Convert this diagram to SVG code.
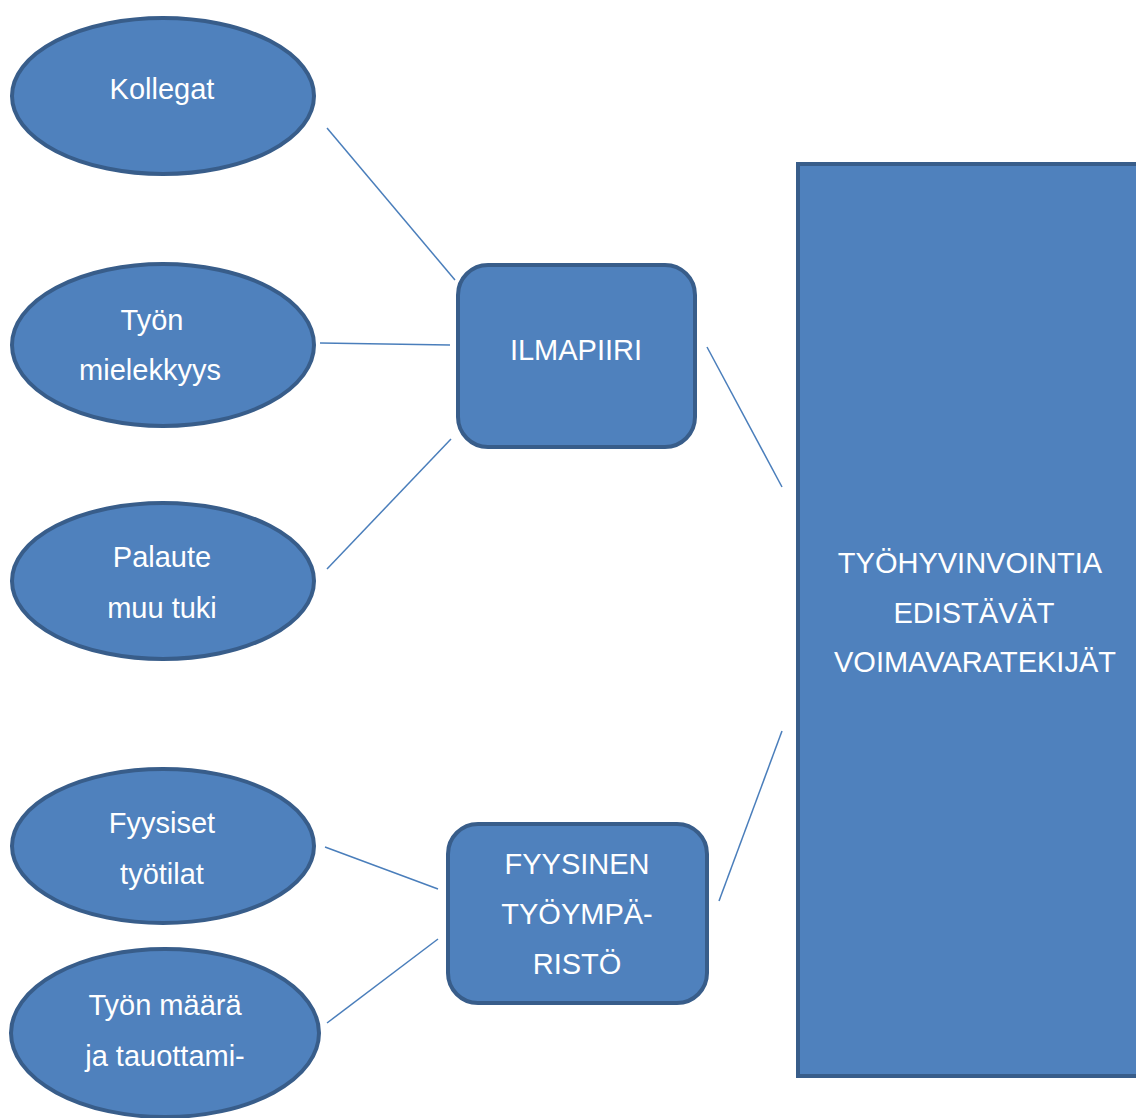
<svg xmlns="http://www.w3.org/2000/svg" width="1136" height="1118" viewBox="0 0 1136 1118">
<style>
.n{fill:#4F81BD;stroke:#385D8A;stroke-width:4}
.t{fill:#fff;font-family:"Liberation Sans",Arial,sans-serif;font-size:29px;text-anchor:middle}
.c line{stroke:#4A7EBB;stroke-width:1.5}
</style>
<rect width="1136" height="1118" fill="#fff"/>
<g class="c" id="connectors">
<line x1="327" y1="128" x2="455" y2="280"/>
<line x1="320" y1="343" x2="450" y2="345"/>
<line x1="327" y1="569" x2="451" y2="439"/>
<line x1="707" y1="347" x2="782" y2="487"/>
<line x1="719" y1="901" x2="782" y2="731"/>
<line x1="325" y1="847" x2="438" y2="889"/>
<line x1="327" y1="1023" x2="438" y2="939"/>
</g>
<g id="big">
<rect class="n" x="798" y="164" width="345" height="912"/>
<text class="t" x="970" y="573">TYÖHYVINVOINTIA</text>
<text class="t" x="974" y="623">EDISTÄVÄT</text>
<text class="t" x="975" y="672">VOIMAVARATEKIJÄT</text>
</g>
<g id="kollegat">
<ellipse class="n" cx="163" cy="96" rx="151" ry="78"/>
<text class="t" x="162" y="99">Kollegat</text>
</g>
<g id="mielekkyys">
<ellipse class="n" cx="163" cy="345" rx="151" ry="81"/>
<text class="t" x="152" y="330">Työn</text>
<text class="t" x="150" y="380">mielekkyys</text>
</g>
<g id="palaute">
<ellipse class="n" cx="163" cy="581" rx="151" ry="78"/>
<text class="t" x="162" y="567">Palaute</text>
<text class="t" x="162" y="618">muu tuki</text>
</g>
<g id="fyysiset">
<ellipse class="n" cx="163" cy="846" rx="151" ry="77"/>
<text class="t" x="162" y="833">Fyysiset</text>
<text class="t" x="162" y="884">työtilat</text>
</g>
<g id="maara">
<ellipse class="n" cx="165" cy="1033" rx="154" ry="84"/>
<text class="t" x="165" y="1015">Työn määrä</text>
<text class="t" x="165" y="1066">ja tauottami-</text>
</g>
<g id="ilmapiiri">
<rect class="n" x="458" y="265" width="237" height="182" rx="30"/>
<text class="t" x="576" y="360">ILMAPIIRI</text>
</g>
<g id="fyysinen">
<rect class="n" x="448" y="824" width="259" height="179" rx="30"/>
<text class="t" x="577" y="874">FYYSINEN</text>
<text class="t" x="577" y="924">TYÖYMPÄ-</text>
<text class="t" x="577" y="974">RISTÖ</text>
</g>
</svg>
